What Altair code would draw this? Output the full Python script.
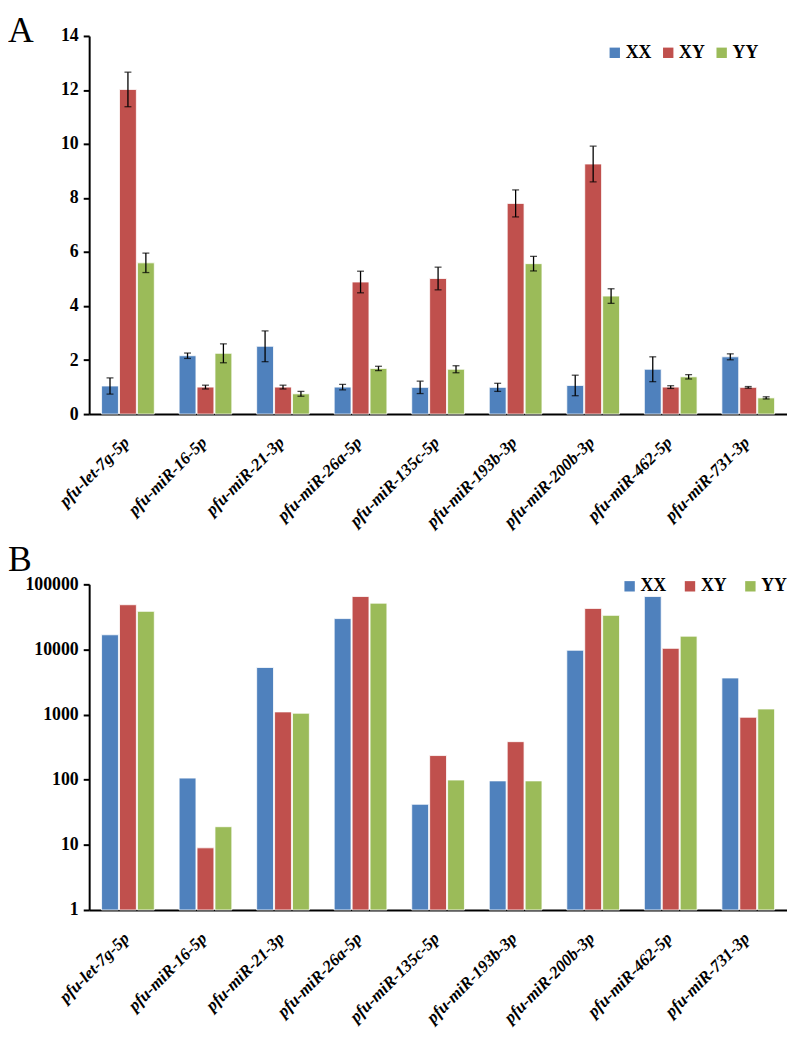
import altair as alt
import pandas as pd

categories = ["pfu-let-7g-5p", "pfu-miR-16-5p", "pfu-miR-21-3p", "pfu-miR-26a-5p",
              "pfu-miR-135c-5p", "pfu-miR-193b-3p", "pfu-miR-200b-3p", "pfu-miR-462-5p",
              "pfu-miR-731-3p"]
groups = ["XX", "XY", "YY"]
colors = ["#4F81BD", "#C0504D", "#9BBB59"]

# Panel A: relative expression (mean, error)
a_xx = [1.04, 2.16, 2.51, 1.00, 0.99, 0.99, 1.06, 1.66, 2.12]
a_xx_err = [0.30, 0.10, 0.57, 0.10, 0.23, 0.15, 0.38, 0.46, 0.11]
a_xy = [12.02, 1.00, 1.00, 4.89, 5.02, 7.80, 9.26, 1.00, 0.99]
a_xy_err = [0.64, 0.07, 0.07, 0.40, 0.42, 0.50, 0.66, 0.05, 0.03]
a_yy = [5.60, 2.25, 0.75, 1.69, 1.66, 5.57, 4.37, 1.38, 0.60]
a_yy_err = [0.36, 0.35, 0.09, 0.08, 0.13, 0.27, 0.27, 0.08, 0.04]

# Panel B: read counts (log scale)
b_xx = [16800, 106, 5290, 29800, 42, 96, 9730, 65000, 3650]
b_xy = [48600, 9, 1100, 65000, 235, 384, 42700, 10400, 910]
b_yy = [38500, 19, 1050, 51400, 99, 96, 33400, 16000, 1220]
b_base = 1

FONT = "Liberation Serif"

rows_a = []
for i, c in enumerate(categories):
    for g, vals, errs in zip(groups, [a_xx, a_xy, a_yy], [a_xx_err, a_xy_err, a_yy_err]):
        rows_a.append({"cat": c, "grp": g, "val": vals[i],
                       "lo": vals[i] - errs[i], "hi": vals[i] + errs[i]})
df_a = pd.DataFrame(rows_a)

rows_b = []
for i, c in enumerate(categories):
    for g, vals in zip(groups, [b_xx, b_xy, b_yy]):
        rows_b.append({"cat": c, "grp": g, "val": vals[i], "base": b_base})
df_b = pd.DataFrame(rows_b)

W = 705


def x_enc():
    return alt.X("cat:N", sort=categories,
                 scale=alt.Scale(paddingInner=0.32, paddingOuter=0.16),
                 axis=alt.Axis(title=None, labelAngle=-45, labelFont=FONT,
                               labelFontStyle="italic", labelFontWeight="bold",
                               labelFontSize=17, labelColor="black", ticks=False,
                               domainColor="black", domainWidth=2, labelPadding=20,
                               labelOffset=-7))


def xoff_enc():
    return alt.XOffset("grp:N", sort=groups, scale=alt.Scale(paddingInner=0.06))


def color_enc(lx, ly, colpad):
    return alt.Color("grp:N", scale=alt.Scale(domain=groups, range=colors),
                     legend=alt.Legend(title=None, orient="none", legendX=lx, legendY=ly,
                                       direction="horizontal", symbolType="square",
                                       symbolSize=110, symbolStrokeWidth=0,
                                       labelFont=FONT, labelFontWeight="bold",
                                       labelFontSize=18, labelColor="black",
                                       columnPadding=colpad, labelOffset=2))


yaxis_common = dict(title=None, labelFont=FONT, labelFontWeight="bold", labelFontSize=18,
                    labelColor="black", domainColor="black", domainWidth=2,
                    tickColor="black", tickWidth=2, tickSize=6, grid=False, labelPadding=5)

base_a = alt.Chart(df_a)
bars_a = base_a.mark_bar(stroke="white", strokeWidth=0.8).encode(
    x=x_enc(), xOffset=xoff_enc(),
    y=alt.Y("val:Q", scale=alt.Scale(domain=[0, 14]),
            axis=alt.Axis(values=list(range(0, 15, 2)), **yaxis_common)),
    color=color_enc(522, 8, 8),
)
err_a = base_a.mark_rule(color="black", strokeWidth=1.3).encode(
    x=x_enc(), xOffset=xoff_enc(), y="lo:Q", y2="hi:Q")
cap_hi = base_a.mark_tick(color="black", size=7, thickness=1.3).encode(
    x=x_enc(), xOffset=xoff_enc(), y="hi:Q")
cap_lo = base_a.mark_tick(color="black", size=7, thickness=1.3).encode(
    x=x_enc(), xOffset=xoff_enc(), y="lo:Q")
lab_a = alt.Chart(pd.DataFrame({"t": ["A"]})).mark_text(
    font=FONT, fontSize=36, align="left", baseline="alphabetic", color="black").encode(
    text="t:N", x=alt.value(-82), y=alt.value(6))

chart_a = alt.layer(bars_a, err_a, cap_hi, cap_lo, lab_a).properties(width=W, height=382)

base_b = alt.Chart(df_b)
bars_b = base_b.mark_bar(stroke="white", strokeWidth=0.8).encode(
    x=x_enc(), xOffset=xoff_enc(),
    y=alt.Y("val:Q", stack=None, scale=alt.Scale(type="log", domain=[1, 100000]),
            axis=alt.Axis(values=[1, 10, 100, 1000, 10000, 100000], format="d",
                          **yaxis_common)),
    y2="base:Q",
    color=color_enc(537, -7, 15),
)
lab_b = alt.Chart(pd.DataFrame({"t": ["B"]})).mark_text(
    font=FONT, fontSize=36, align="left", baseline="alphabetic", color="black").encode(
    text="t:N", x=alt.value(-82), y=alt.value(-13))

chart_b = alt.layer(bars_b, lab_b).properties(width=W, height=329)

chart = alt.vconcat(chart_a, chart_b, spacing=13).resolve_scale(
    color="independent", y="independent").resolve_legend(color="independent").properties(
    padding={"left": 0, "top": 0, "right": 0, "bottom": 0}).configure_view(stroke=None)

chart.save("out.html", embed_options={"renderer": "svg", "actions": False})
